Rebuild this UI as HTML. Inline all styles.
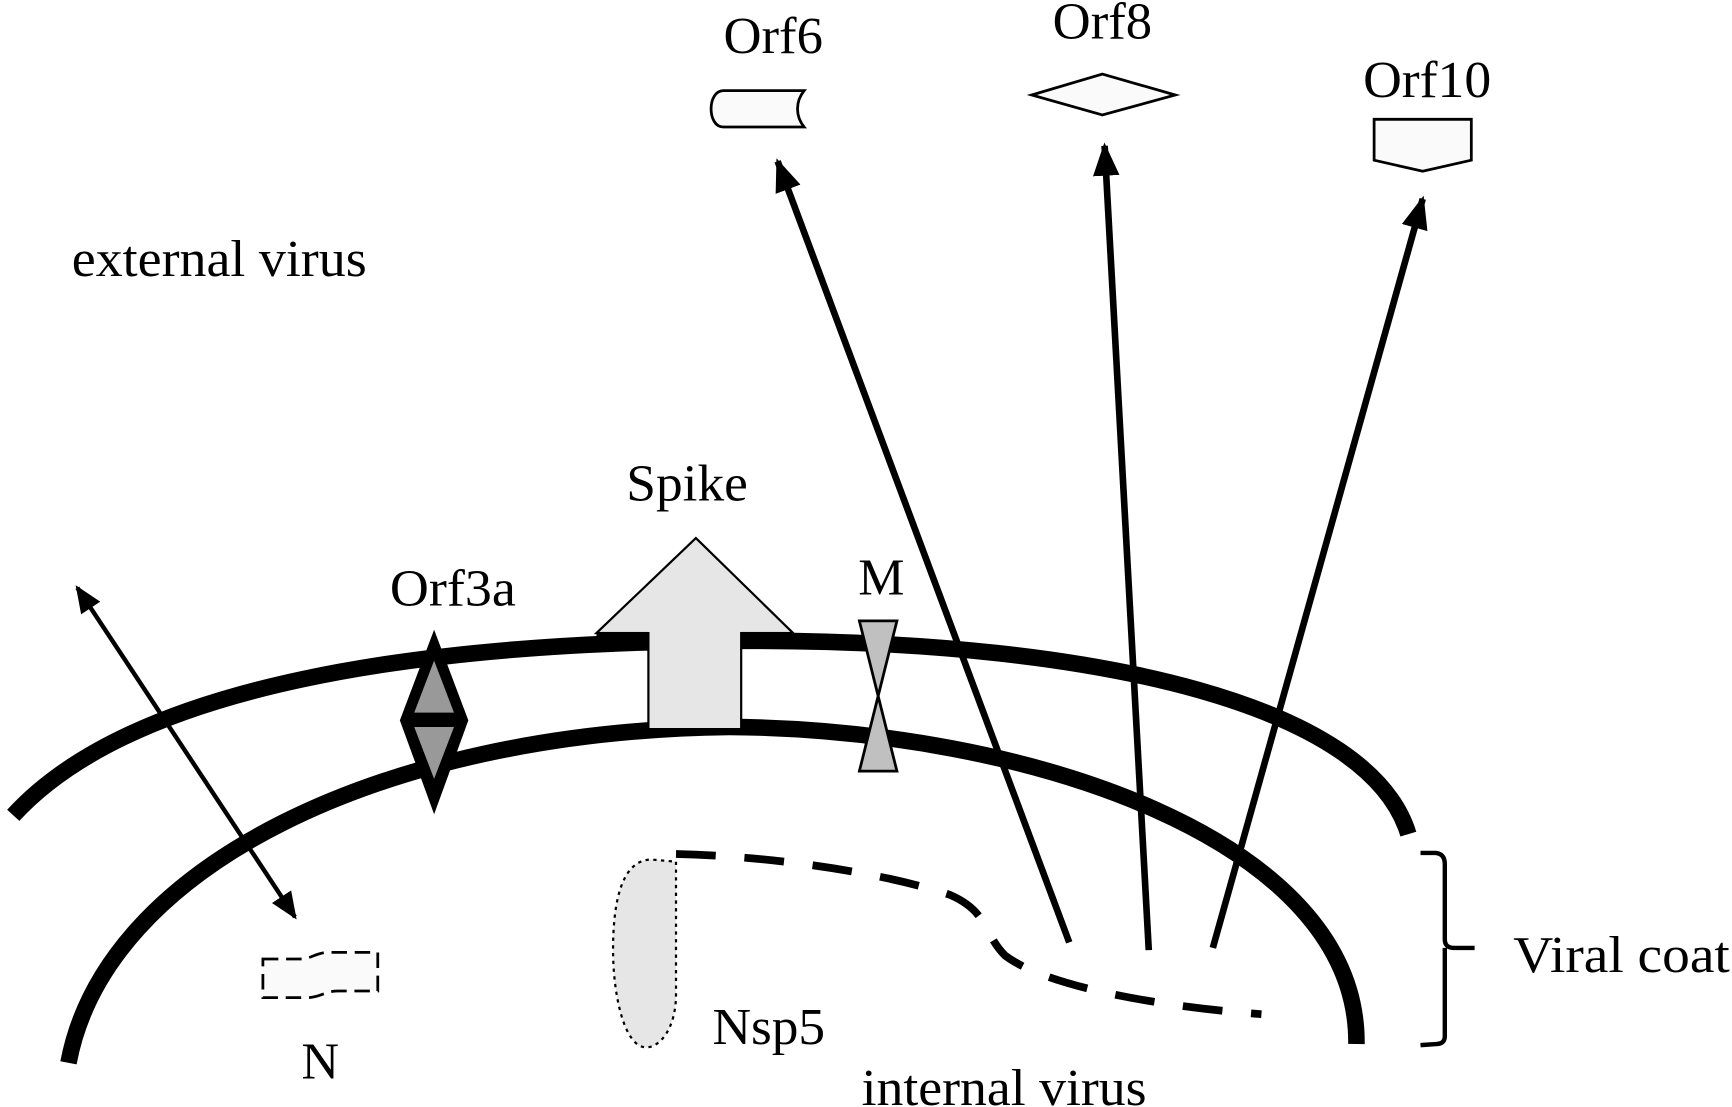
<!DOCTYPE html>
<html><head><meta charset="utf-8"><style>
html,body{margin:0;padding:0;background:#fff;}
svg{display:block;}
text{font-family:"Liberation Serif",serif;fill:#000;}
</style></head><body>
<svg width="1732" height="1107" viewBox="0 0 1568 1002" preserveAspectRatio="none" xmlns="http://www.w3.org/2000/svg">
<defs>
<marker id="ah" markerWidth="7" markerHeight="7" refX="4.5" refY="2.8" orient="auto" markerUnits="strokeWidth">
<path d="M0,0.8 L5,2.8 L0,4.8 Z" fill="#000"/>
</marker>
<marker id="ah2" markerWidth="9" markerHeight="9" refX="5.5" refY="3.2" orient="auto-start-reverse" markerUnits="strokeWidth">
<path d="M0,0.6 L6.2,3.2 L0,5.8 Z" fill="#000"/>
</marker>
</defs>
<rect width="1568" height="1002" fill="#fff"/>

<path d="M12,738 C120,620 380,580 680,580 C1000,580 1240,640 1275,755" fill="none" stroke="#000" stroke-width="15"/>
<path d="M62,962 C95,785 345,662 660,658 C930,660 1230,760 1228,945" fill="none" stroke="#000" stroke-width="15"/>

<polygon points="393,570 424,652 393,737 362,652" fill="#000"/>
<polygon points="393,598 411,645 375,645" fill="#999"/>
<polygon points="375,658 411,658 393,705" fill="#999"/>

<polygon points="630,487 718,573 671,573 671,660 587,660 587,573 540,573" fill="#e6e6e6" stroke="#000" stroke-width="2"/>
<rect x="540" y="572" width="47" height="14" fill="#000"/>
<rect x="671" y="572" width="47" height="15" fill="#000"/>

<polygon points="778,562 812,562 795,630 778,698 812,698 795,630" fill="#c0c0c0" stroke="#000" stroke-width="2.5"/>

<line x1="968" y1="853" x2="704" y2="146" stroke="#000" stroke-width="6" marker-end="url(#ah)"/>
<line x1="1040" y1="860" x2="1000" y2="132" stroke="#000" stroke-width="6" marker-end="url(#ah)"/>
<line x1="1098" y1="858" x2="1288" y2="180" stroke="#000" stroke-width="6" marker-end="url(#ah)"/>
<line x1="70" y1="532" x2="267" y2="830" stroke="#000" stroke-width="4" marker-start="url(#ah2)" marker-end="url(#ah2)"/>

<path d="M612,773 C700,775 800,790 860,810 C895,825 890,845 910,865 C950,895 1060,912 1142,918" fill="none" stroke="#000" stroke-width="7" stroke-dasharray="36 26"/>

<path d="M612,780 L612,900 C612,930 598,948 585,948 C565,948 555,900 555,860 C555,810 565,778 590,778 Z" fill="#e6e6e6" stroke="#000" stroke-width="2" stroke-dasharray="3 4"/>

<path d="M238,868 L272,868 C282,868 286,862 298,862 L342,862 L342,897 L306,897 C294,897 290,903 278,903 L238,903 Z" fill="#fafafa" stroke="#000" stroke-width="2.5" stroke-dasharray="14 7"/>

<path d="M728,82 L655,82 C640,82 640,115 655,115 L728,115 C720,105 720,92 728,82 Z" fill="#fafafa" stroke="#000" stroke-width="2.5"/>
<polygon points="998,67 1064,86 998,104 934,86" fill="#fafafa" stroke="#000" stroke-width="2.5"/>
<polygon points="1244,108 1332,108 1332,145 1288,155 1244,145" fill="#fafafa" stroke="#000" stroke-width="2.5"/>

<path d="M1286,772 L1300,772 Q1308,773 1308,782 L1308,850 Q1308,858 1316,858 L1335,858 M1308,858 Q1308,866 1308,872 L1308,938 Q1308,945 1300,945 L1286,946" fill="none" stroke="#000" stroke-width="4"/>

<g font-size="47">
<text x="65" y="250" textLength="267" lengthAdjust="spacingAndGlyphs">external virus</text>
<text x="655" y="48" textLength="90" lengthAdjust="spacingAndGlyphs">Orf6</text>
<text x="953" y="35" textLength="90" lengthAdjust="spacingAndGlyphs">Orf8</text>
<text x="1234" y="88" textLength="116" lengthAdjust="spacingAndGlyphs">Orf10</text>
<text x="567" y="453" textLength="110" lengthAdjust="spacingAndGlyphs">Spike</text>
<text x="353" y="548" textLength="114" lengthAdjust="spacingAndGlyphs">Orf3a</text>
<text x="777" y="538">M</text>
<text x="1370" y="880" textLength="196" lengthAdjust="spacingAndGlyphs">Viral coat</text>
<text x="273" y="976">N</text>
<text x="645" y="945" textLength="102" lengthAdjust="spacingAndGlyphs">Nsp5</text>
<text x="780" y="1000" textLength="258" lengthAdjust="spacingAndGlyphs">internal virus</text>
</g>
</svg>
</body></html>
